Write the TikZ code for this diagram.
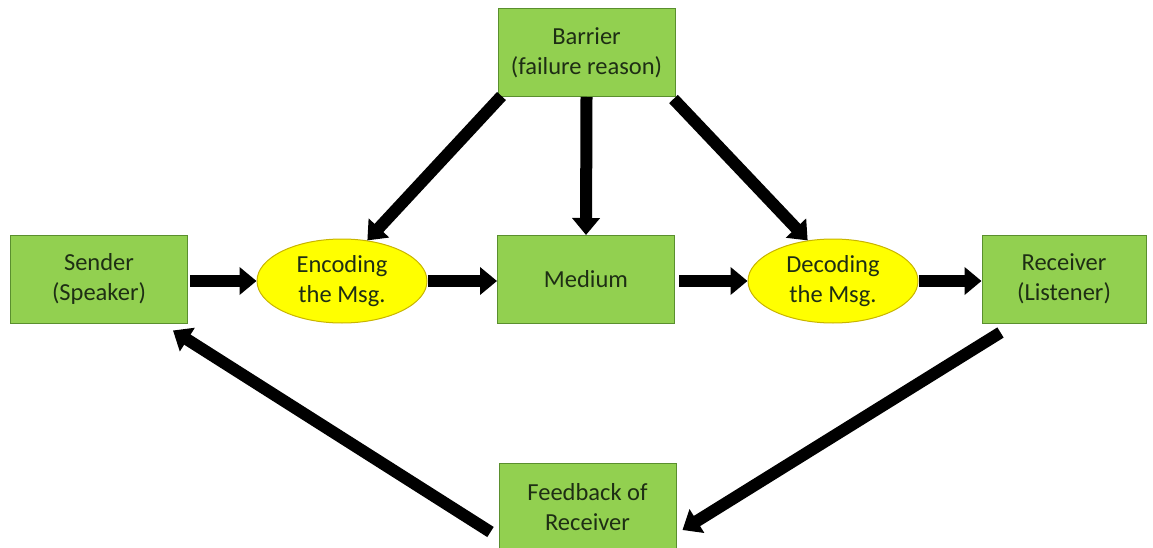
\documentclass[tikz,border=0pt]{standalone}
\usepackage{fontspec}
\setmainfont{Carlito}
\usetikzlibrary{arrows.meta,shapes.geometric}
\definecolor{boxfill}{HTML}{92D050}
\definecolor{boxline}{HTML}{5A8F2E}
\definecolor{ellfill}{HTML}{FFFF00}
\definecolor{ellline}{HTML}{C8B400}
\definecolor{txt}{HTML}{1E2E14}
\tikzset{
  gbox/.style={draw=boxline, line width=1pt, fill=boxfill, minimum width=177pt, minimum height=88pt,
    inner sep=0pt, align=center, text=txt, font=\fontsize{24.5}{30}\selectfont},
  yell/.style={ellipse, draw=ellline, line width=1pt, fill=ellfill, minimum width=170pt, minimum height=84pt,
    inner sep=0pt, align=center, text=txt, font=\fontsize{24.5}{30}\selectfont},
  fat/.style={line width=12pt, -{Triangle[length=17pt,width=27pt]}, black}
}
\begin{document}
\begin{tikzpicture}[x=1pt,y=1pt]
\useasboundingbox (0,0) rectangle (1153,-548);
\clip (0,0) rectangle (1153,-548);
\node[gbox] (bar) at (586.5,-52.5) {Barrier\\(failure reason)};
\node[gbox] (snd) at (99,-279) {Sender\\(Speaker)};
\node[yell] (enc) at (342,-281) {Encoding\\the Msg.};
\node[gbox] (med) at (586,-279.5) {Medium};
\node[yell] (dec) at (833,-281) {Decoding\\the Msg.};
\node[gbox, minimum width=164pt] (rec) at (1064,-279) {Receiver\\(Listener)};
\node[gbox, minimum height=88pt] (fb) at (587.5,-507) {Feedback of\\Receiver};

\draw[fat] ([xshift=2pt]snd.east |- enc.west) -- (enc.west);
\draw[fat] (enc.east) -- (med.west |- enc.east);
\draw[fat] ([xshift=4pt]med.east |- dec.west) -- (dec.west);
\draw[fat] (dec.east) -- (rec.west |- dec.east);

\draw[fat] ([shift={(4pt,1pt)}]bar.south west) -- (enc.58);
\draw[fat] (bar.south) -- (med.north);
\draw[fat] ([shift={(-2pt,-2pt)}]bar.south east) -- (dec.122);

\draw[fat] ([shift={(19pt,-9pt)}]rec.south west) -- ([shift={(6pt,-23pt)}]fb.east);
\draw[fat] ([shift={(-8pt,-25pt)}]fb.west) -- ([shift={(-15pt,-7pt)}]snd.south east);
\end{tikzpicture}
\end{document}
